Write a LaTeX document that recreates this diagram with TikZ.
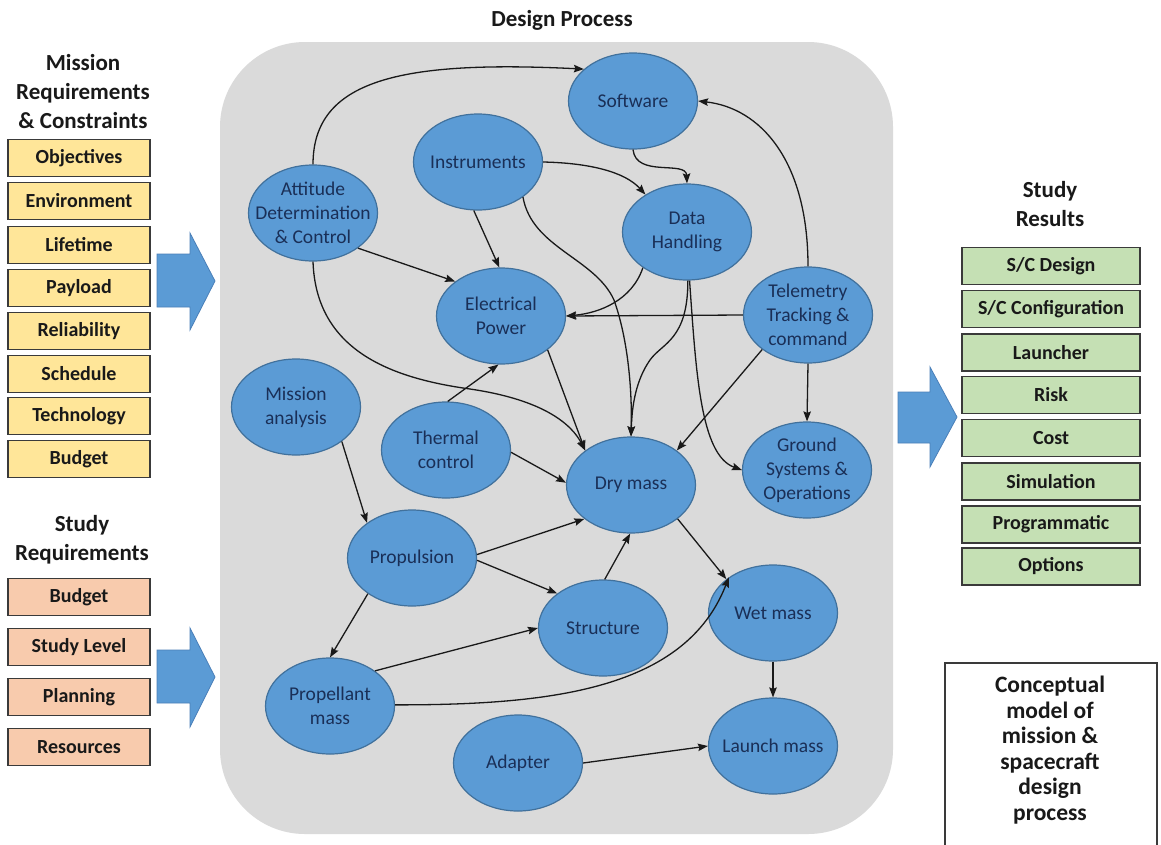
\documentclass[tikz,border=0pt]{standalone}
\usepackage{fontspec}
\setmainfont{Carlito}
\usetikzlibrary{shapes.geometric,arrows.meta}
\definecolor{panel}{HTML}{DADADA}
\definecolor{ellfill}{HTML}{5B9BD5}
\definecolor{elldraw}{HTML}{41719C}
\definecolor{navy}{HTML}{1A2F57}
\definecolor{yel}{HTML}{FFE699}
\definecolor{sal}{HTML}{F8CBAD}
\definecolor{grn}{HTML}{C5E0B4}
\definecolor{boxline}{HTML}{3A3A3A}
\definecolor{blkarrow}{HTML}{5B9BD5}
\definecolor{blkarrowline}{HTML}{4A7FB8}
\begin{document}
\begin{tikzpicture}[x=1pt,y=-1pt,
  ell/.style={ellipse,draw=elldraw,line width=1.2pt,fill=ellfill,minimum width=129pt,minimum height=96pt,inner sep=0pt},
  elltext/.style={align=center,text=navy,font=\fontsize{19.5}{24}\selectfont,inner sep=0pt},
  header/.style={align=center,font=\fontsize{23}{29}\selectfont\bfseries,text=black!90},
  listbox/.style={draw=boxline,line width=1.3pt,minimum height=37pt,inner sep=0pt,font=\fontsize{20}{23}\selectfont\bfseries,text=black!90},
  ybox/.style={listbox,fill=yel,minimum width=142pt},
  obox/.style={listbox,fill=sal,minimum width=142pt},
  gbox/.style={listbox,fill=grn,minimum width=178pt},
  conn/.style={draw=black!90,line width=1.3pt,-{Stealth[length=10pt,width=7.5pt,inset=1.5pt]}},
  blockarrow/.style={fill=blkarrow,draw=blkarrowline,line width=0.8pt}
]
\useasboundingbox (0,0) rectangle (1161,844);
\fill[white] (0,0) rectangle (1161,844);

% design panel
\fill[panel,rounded corners=85pt] (220,42) rectangle (893,834);
\node[header] (dp) at (562,20) {Design Process};

% left column
\node[header] (mrc) at (83,92) {Mission\\Requirements\\\& Constraints};
\node[ybox] (b1) at (79,158) {Objectives};
\node[ybox] (b2) at (79,201) {Environment};
\node[ybox] (b3) at (79,245) {Lifetime};
\node[ybox] (b4) at (79,288) {Payload};
\node[ybox] (b5) at (79,331) {Reliability};
\node[ybox] (b6) at (79,374) {Schedule};
\node[ybox] (b7) at (79,416) {Technology};
\node[ybox] (b8) at (79,459) {Budget};

\node[header] (sreq) at (82,540) {Study\\Requirements};
\node[obox] (s1) at (79,597) {Budget};
\node[obox] (s2) at (79,647) {Study Level};
\node[obox] (s3) at (79,697) {Planning};
\node[obox] (s4) at (79,747) {Resources};

% right column
\node[header] (sres) at (1050,204) {Study\\Results};
\node[gbox] (r1) at (1051,266) {S/C Design};
\node[gbox] (r2) at (1051,309) {S/C Configuration};
\node[gbox] (r3) at (1051,352.5) {Launcher};
\node[gbox] (r4) at (1051,395) {Risk};
\node[gbox] (r5) at (1051,438) {Cost};
\node[gbox] (r6) at (1051,481.5) {Simulation};
\node[gbox] (r7) at (1051,524.5) {Programmatic};
\node[gbox] (r8) at (1051,566.5) {Options};

% conceptual box
\draw[draw=boxline,line width=1.3pt] (945,846) -- (945,663) -- (1157,663) -- (1157,846);
\node[header,font=\fontsize{23.5}{25.5}\selectfont\bfseries] (concept) at (1050,750) {Conceptual\\model of\\mission \&\\spacecraft\\design\\process};

% block arrows
\path[blockarrow] (157,254) -- (190,254) -- (190,233) -- (215,281) -- (190,330) -- (190,307) -- (157,307) -- cycle;
\path[blockarrow] (157,650) -- (190,650) -- (190,628) -- (215,677) -- (190,727) -- (190,703) -- (157,703) -- cycle;
\path[blockarrow] (898,392) -- (930,392) -- (930,367) -- (957,417) -- (930,467) -- (930,443) -- (898,443) -- cycle;

% ellipses
\node[ell] (sw) at (633,101) {};
\node[ell] (ins) at (478,162) {};
\node[ell] (adc) at (313,213) {};
\node[ell] (dh) at (687,232) {};
\node[ell] (ttc) at (808,315) {};
\node[ell] (ep) at (501,316) {};
\node[ell] (ma) at (296,407) {};
\node[ell] (th) at (446,450) {};
\node[ell] (dry) at (631,485) {};
\node[ell] (gs) at (807,470) {};
\node[ell] (prop) at (412,558) {};
\node[ell] (str) at (603,628) {};
\node[ell] (wet) at (773,613) {};
\node[ell] (pm) at (330,706) {};
\node[ell] (ad) at (518,763) {};
\node[ell] (lm) at (773,746) {};

\node[elltext] (swt) at (sw) {Software};
\node[elltext] (inst) at (ins) {Instruments};
\node[elltext] (adct) at (adc) {Attitude\\Determination\\\& Control};
\node[elltext] (dht) at (dh) {Data\\Handling};
\node[elltext] (ttct) at (ttc) {Telemetry\\Tracking \&\\command};
\node[elltext] (ept) at (ep) {Electrical\\Power};
\node[elltext] (mat) at (ma) {Mission\\analysis};
\node[elltext] (tht) at (th) {Thermal\\control};
\node[elltext] (dryt) at (dry) {Dry mass};
\node[elltext] (gst) at (gs) {Ground\\Systems \&\\Operations};
\node[elltext] (propt) at (prop) {Propulsion};
\node[elltext] (strt) at (str) {Structure};
\node[elltext] (wett) at (wet) {Wet mass};
\node[elltext] (pmt) at (pm) {Propellant\\mass};
\node[elltext] (adt) at (ad) {Adapter};
\node[elltext] (lmt) at (lm) {Launch mass};

% connectors
\draw[conn] (adc.north) .. controls (313,80) and (400,60) .. (sw.147);
\draw[conn] (adc.south) .. controls (316,350) and (390,378) .. (470,389) .. controls (545,400) and (572,425) .. (dry.143);
\draw[conn] (adc.-38) -- (ep.143);
\draw[conn] (ins.-95) -- (ep.92);
\draw[conn] (ins.0) .. controls (590,163) and (625,172) .. (dh.138);
\draw[conn] (ins.-38) .. controls (532,248) and (595,258) .. (614,300) .. controls (630,345) and (632,400) .. (dry.north);
\draw[conn] (sw.south) .. controls (636,178) and (686,160) .. (dh.north);
\draw[conn] (ttc.north) .. controls (808,160) and (760,108) .. (sw.east);
\draw[conn] (dh.-141) .. controls (632,300) and (600,313) .. (ep.east);
\draw[conn] (ttc.west) -- (ep.east);
\draw[conn] (dh.-89) .. controls (688,340) and (662,343) .. (650,360) .. controls (636,380) and (632,405) .. (dry.north);
\draw[conn] (dh.-87) .. controls (696,370) and (700,455) .. (gs.west);
\draw[conn] (ttc.-143) -- (dry.37);
\draw[conn] (ttc.south) -- (gs.north);
\draw[conn] (ep.-36) -- (dry.143);
\draw[conn] (th.88) -- (ep.-93);
\draw[conn] (th.-2) -- (dry.178);
\draw[conn] (ma.-37) -- (prop.142);
\draw[conn] (prop.3) -- (dry.-144);
\draw[conn] (prop.-2) -- (str.143);
\draw[conn] (prop.-141) -- (pm.north);
\draw[conn] (pm.38) -- (str.west);
\draw[conn] (pm.1) .. controls (550,705) and (685,690) .. (wet.141);
\draw[conn] (str.88) -- (dry.-91);
\draw[conn] (dry.-36) -- (wet.144);
\draw[conn] (wet.south) -- (lm.north);
\draw[conn] (ad.east) -- (lm.west);
\end{tikzpicture}
\end{document}
